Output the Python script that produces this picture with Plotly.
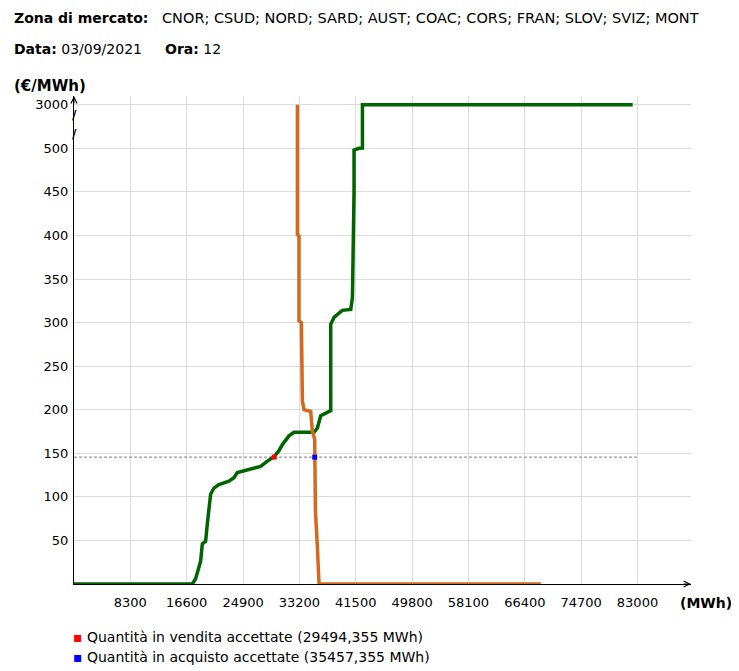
import plotly.graph_objects as go

# offer curve (vendita) - MWh / €/MWh
offer_qty = [0, 17425, 17911, 18648, 18900, 19386, 19636, 19872, 20123, 20609, 21347,
             22820, 23558, 24059, 26270, 27494, 28482, 29455, 30192, 30693, 31666,
             32404, 35352, 35853, 36340, 37327, 37814, 37814, 38300, 39037, 39538,
             40762, 41012, 41248, 41248, 41985, 42486, 42486, 82291]
offer_price = [0, 0, 6, 26, 46, 49, 69, 88, 103, 110, 114,
               118, 122, 128, 132, 135, 141, 146, 153, 160, 170,
               174, 174, 179, 193, 197, 199, 298, 306, 311, 314,
               315, 329, 450, 498, 502, 510, 3000, 3000]

# demand curve (acquisto)
bid_qty = [32904, 32904, 33140, 33140, 33494, 33641, 33877, 34864, 35115, 35454,
           35480, 35560, 35853, 36089, 68770]
bid_price = [3000, 401, 399, 302, 300, 210, 200, 198, 175, 166,
             145, 84, 42, 0, 0]

clearing_price = 145.6
sold_qty = 29494.355
bought_qty = 35457.355

x_ticks = [8300, 16600, 24900, 33200, 41500, 49800, 58100, 66400, 74700, 83000]
y_ticks = [50, 100, 150, 200, 250, 300, 350, 400, 450, 500, 3000]

X_MAX = 90880
Y_MAX = 560


def to_axis(p):
    # broken axis: above 500 everything is squeezed into one 50-unit step
    return p if p <= 500 else 500 + (p - 500) / 2500 * 50


FONT = "DejaVu Sans"
OFF = 7  # page body margin seen in the screenshot
W, H = 739 - OFF, 671 - OFF
# plot box in screen pixels
SL, SR, ST, SB = 73, 690, 95, 583
L, T = SL - OFF, ST - OFF
R, B = W - (SR - OFF), H - (SB - OFF)
PW, PH = SR - SL, SB - ST


def px_x(px):
    return (px - SL) / PW


def px_y(py):
    return (SB - py) / PH


fig = go.Figure()

fig.add_trace(go.Scatter(
    x=[0, 83000], y=[clearing_price, clearing_price], mode="lines",
    line=dict(color="#808080", width=1, dash="3px,2px"), showlegend=False, hoverinfo="skip"))

fig.add_trace(go.Scatter(
    x=offer_qty, y=[to_axis(p) for p in offer_price], mode="lines",
    line=dict(color="#006400", width=3.5), showlegend=False))

fig.add_trace(go.Scatter(
    x=bid_qty, y=[to_axis(p) for p in bid_price], mode="lines",
    line=dict(color="#d2691e", width=3.5), showlegend=False))

fig.add_trace(go.Scatter(
    x=[sold_qty], y=[clearing_price], mode="markers",
    marker=dict(color="red", size=5, symbol="square"), showlegend=False))

fig.add_trace(go.Scatter(
    x=[bought_qty], y=[clearing_price], mode="markers",
    marker=dict(color="blue", size=5, symbol="square"), showlegend=False))

fig.update_xaxes(
    range=[0, X_MAX], tickvals=x_ticks, ticktext=[str(v) for v in x_ticks],
    showgrid=True, gridcolor="#d9dcd9", gridwidth=1, zeroline=False,
    showline=True, linecolor="black", linewidth=1, ticks="",
    ticklabelstandoff=6, tickfont=dict(family=FONT, size=13, color="black"),
    layer="below traces", fixedrange=True)

fig.update_yaxes(
    range=[0, Y_MAX], tickvals=[to_axis(v) for v in y_ticks], ticktext=[str(v) for v in y_ticks],
    showgrid=True, gridcolor="#d9dcd9", gridwidth=1, zeroline=False,
    showline=True, linecolor="black", linewidth=1, ticks="",
    ticklabelstandoff=2, tickfont=dict(family=FONT, size=13, color="black"),
    layer="below traces", fixedrange=True)

annotations = [
    dict(text="<b>Zona di mercato:</b>", x=px_x(11), y=px_y(17), size=14),
    dict(text="CNOR; CSUD; NORD; SARD; AUST; COAC; CORS; FRAN; SLOV; SVIZ; MONT",
         x=px_x(159), y=px_y(17), size=14.5),
    dict(text="<b>Data:</b> 03/09/2021", x=px_x(11), y=px_y(48), size=14),
    dict(text="<b>Ora:</b> 12", x=px_x(162), y=px_y(48), size=14),
    dict(text="<b>(€/MWh)</b>", x=px_x(11), y=px_y(85), size=15),
    dict(text="<b>(MWh)</b>", x=px_x(677), y=px_y(602), size=14),
    dict(text="<span style='color:red'>▪</span> Quantità in vendita accettate (29494,355 MWh)",
         x=px_x(70), y=px_y(636), size=14),
    dict(text="<span style='color:blue'>▪</span> Quantità in acquisto accettate (35457,355 MWh)",
         x=px_x(70), y=px_y(656), size=14),
]
for a in annotations:
    size = a.pop("size")
    fig.add_annotation(xref="paper", yref="paper", xanchor="left", yanchor="middle",
                       showarrow=False, font=dict(family=FONT, size=size, color="black"), **a)

# axis break marks
for yb in [516, 538]:
    fig.add_annotation(x=0, y=yb, xref="x", yref="y", text="<b>/</b>", showarrow=False,
                       font=dict(family=FONT, size=12, color="black"))

# axis arrows
fig.add_annotation(x=X_MAX, y=0, xref="x", yref="y", ax=-9, ay=0, text="",
                   showarrow=True, arrowhead=5, arrowsize=1.2, arrowwidth=1, arrowcolor="black")
fig.add_annotation(x=0, y=Y_MAX, xref="x", yref="y", ax=0, ay=9, text="",
                   showarrow=True, arrowhead=5, arrowsize=1.2, arrowwidth=1, arrowcolor="black")

fig.update_layout(
    width=W, height=H,
    margin=dict(l=L, r=R, t=T, b=B, autoexpand=False),
    paper_bgcolor="white", plot_bgcolor="white",
    font=dict(family=FONT, size=12, color="black"),
    showlegend=False,
)

fig.write_html("out.html")
